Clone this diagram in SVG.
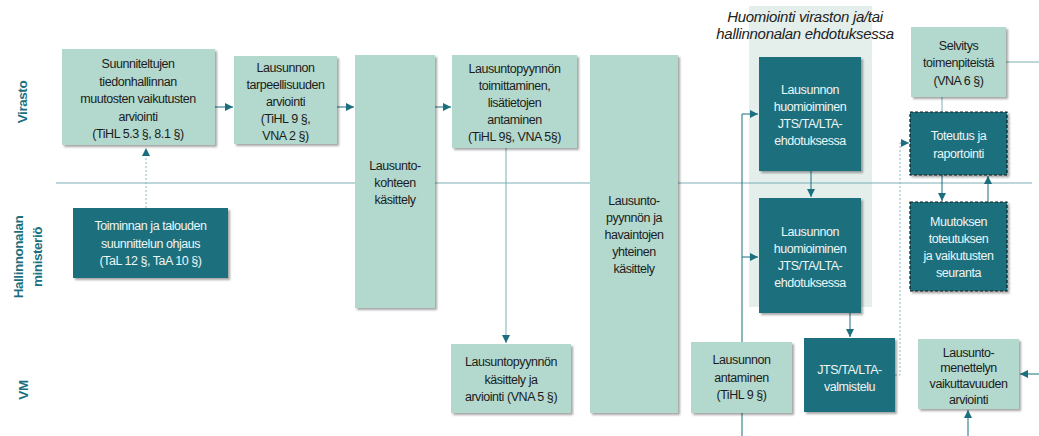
<svg xmlns="http://www.w3.org/2000/svg" width="1039" height="436" viewBox="0 0 1039 436">
<style>
.lt{fill:#b3d8cd}
.dk{fill:#1b6f7e}
.dash{stroke:#1a1a1a;stroke-width:1.2;stroke-dasharray:3 2}
text{font-family:"Liberation Sans",Arial,sans-serif;font-size:12.5px;letter-spacing:-0.45px;text-anchor:middle}
.tl{fill:#1c1c1c}
.td{fill:#eef5f5}
.lane{font-size:13.5px;font-weight:bold;fill:#1b6f7e;letter-spacing:-0.45px}
.ttl{font-size:15px;font-style:italic;fill:#222;letter-spacing:-0.3px}
.c{fill:none;stroke:#1b6f7e;stroke-width:1}
.cl{fill:none;stroke:#7aaeb6;stroke-width:1}
.cd{fill:none;stroke:#8fb9c0;stroke-width:1;stroke-dasharray:2 2}
</style>
<defs>
<marker id="ah" viewBox="0 0 10 10" refX="10" refY="5" markerWidth="8" markerHeight="8" markerUnits="userSpaceOnUse" orient="auto"><path d="M0,0 L10,5 L0,10 Z" fill="#1b6f7e"/></marker>
<filter id="sh" x="-10%" y="-10%" width="130%" height="130%"><feDropShadow dx="2" dy="2" stdDeviation="1.2" flood-color="#000" flood-opacity="0.35"/></filter>
</defs>
<rect width="1039" height="436" fill="#fff"/>
<g id="band">
<rect x="749" y="6" width="123" height="301" fill="#e4eeea"/>
<text class="ttl" x="805" y="22">Huomiointi viraston ja/tai</text>
<text class="ttl" x="805" y="39">hallinnonalan ehdotuksessa</text>
</g>
<g id="lanes">
<line x1="56" y1="183" x2="1032" y2="183" class="cl"/>
<text class="lane" transform="translate(27,102) rotate(-90)">Virasto</text>
<text class="lane" transform="translate(23,257) rotate(-90)">Hallinnonalan</text>
<text class="lane" transform="translate(42,257) rotate(-90)">ministeriö</text>
<text class="lane" transform="translate(28,390) rotate(-90)">VM</text>
</g>
<g id="connectors">
<path class="cd" d="M146,208 V148" marker-end="url(#ah)"/>
<path class="c" d="M215,107 H233" marker-end="url(#ah)"/>
<path class="c" d="M337,107 H354" marker-end="url(#ah)"/>
<path class="c" d="M435,107 H451" marker-end="url(#ah)"/>
<path class="cl" d="M506,148 V343" marker-end="url(#ah)"/>
<path class="c" d="M742,436 V114 H758" marker-end="url(#ah)"/>
<path class="c" d="M742,257 H758" marker-end="url(#ah)"/>
<path class="c" d="M811,171 V197" marker-end="url(#ah)"/>
<path class="c" d="M850,313 V337" marker-end="url(#ah)"/>
<path class="cd" d="M895,375 H900 V143 H909" marker-end="url(#ah)"/>
<path class="cl" d="M942,97 V112"/>
<path class="cl" d="M1006,62 H1039"/>
<path class="c" d="M942,175 V201" marker-end="url(#ah)"/>
<path class="c" d="M988,202 V176" marker-end="url(#ah)"/>
<path class="c" d="M1039,374 H1020" marker-end="url(#ah)"/>
<path class="c" d="M968,436 V410" marker-end="url(#ah)"/>
</g>
<g id="n1"><rect class="lt" x="62" y="49" width="153" height="96" filter="url(#sh)"/>
<text class="tl" x="138" y="68">Suunniteltujen</text><text class="tl" x="138" y="85.5">tiedonhallinnan</text><text class="tl" x="138" y="103">muutosten  vaikutusten</text><text class="tl" x="138" y="120.5">arviointi</text><text class="tl" x="138" y="138">(TiHL 5.3 §, 8.1 §)</text></g>
<g id="n2"><rect class="lt" x="234" y="56" width="103" height="88" filter="url(#sh)"/>
<text class="tl" x="285.5" y="71.5">Lausunnon</text><text class="tl" x="285.5" y="88.5">tarpeellisuuden</text><text class="tl" x="285.5" y="105.5">arviointi</text><text class="tl" x="285.5" y="122.5">(TiHL 9 §,</text><text class="tl" x="285.5" y="139.5">VNA 2 §)</text></g>
<g id="n3"><rect class="lt" x="355" y="55" width="80" height="253" filter="url(#sh)"/>
<text class="tl" x="395" y="169.5">Lausunto-</text><text class="tl" x="395" y="186.5">kohteen</text><text class="tl" x="395" y="203.5">käsittely</text></g>
<g id="n4"><rect class="lt" x="452" y="55" width="125" height="93" filter="url(#sh)"/>
<text class="tl" x="514.5" y="72.5">Lausuntopyynnön</text><text class="tl" x="514.5" y="89.5">toimittaminen,</text><text class="tl" x="514.5" y="106.5">lisätietojen</text><text class="tl" x="514.5" y="123.5">antaminen</text><text class="tl" x="514.5" y="140.5">(TiHL 9§, VNA 5§)</text></g>
<g id="n5"><rect class="lt" x="590" y="55" width="88" height="358" filter="url(#sh)"/>
<text class="tl" x="634" y="204.5">Lausunto-</text><text class="tl" x="634" y="221.5">pyynnön  ja</text><text class="tl" x="634" y="238.5">havaintojen</text><text class="tl" x="634" y="255.5">yhteinen</text><text class="tl" x="634" y="272.5">käsittely</text></g>
<g id="n6"><rect class="lt" x="451" y="344" width="120" height="69" filter="url(#sh)"/>
<text class="tl" x="511" y="366">Lausuntopyynnön</text><text class="tl" x="511" y="383.5">käsittely ja</text><text class="tl" x="511" y="401">arviointi  (VNA 5 §)</text></g>
<g id="n7"><rect class="dk" x="73" y="208" width="155" height="70" filter="url(#sh)"/>
<text class="td" x="150.5" y="230">Toiminnan  ja talouden</text><text class="td" x="150.5" y="247.5">suunnittelun  ohjaus</text><text class="td" x="150.5" y="265">(TaL 12 §, TaA 10 §)</text></g>
<g id="n9"><rect class="dk" x="759" y="57" width="102" height="114" filter="url(#sh)"/>
<text class="td" x="810" y="94">Lausunnon</text><text class="td" x="810" y="111">huomioiminen</text><text class="td" x="810" y="128">JTS/TA/LTA-</text><text class="td" x="810" y="145">ehdotuksessa</text></g>
<g id="n10"><rect class="dk" x="759" y="198" width="102" height="115" filter="url(#sh)"/>
<text class="td" x="810" y="236">Lausunnon</text><text class="td" x="810" y="253">huomioiminen</text><text class="td" x="810" y="270">JTS/TA/LTA-</text><text class="td" x="810" y="287">ehdotuksessa</text></g>
<g id="n11"><rect class="dk" x="804" y="338" width="91" height="74" filter="url(#sh)"/>
<text class="td" x="849.5" y="374">JTS/TA/LTA-</text><text class="td" x="849.5" y="391">valmistelu</text></g>
<g id="n12"><rect class="lt" x="691" y="342" width="101" height="71" filter="url(#sh)"/>
<text class="tl" x="741.5" y="364">Lausunnon</text><text class="tl" x="741.5" y="381.5">antaminen</text><text class="tl" x="741.5" y="399">(TiHL 9 §)</text></g>
<g id="n13"><rect class="lt" x="911" y="27" width="95" height="70" filter="url(#sh)"/>
<text class="tl" x="958.5" y="49.5">Selvitys</text><text class="tl" x="958.5" y="67">toimenpiteistä</text><text class="tl" x="958.5" y="84.5">(VNA 6 §)</text></g>
<g id="n14"><rect class="dk dash" x="910" y="112" width="97" height="63" filter="url(#sh)"/>
<text class="td" x="958.5" y="140">Toteutus ja</text><text class="td" x="958.5" y="158">raportointi</text></g>
<g id="n15"><rect class="dk dash" x="910" y="202" width="97" height="89" filter="url(#sh)"/>
<text class="td" x="958.5" y="226">Muutoksen</text><text class="td" x="958.5" y="243">toteutuksen</text><text class="td" x="958.5" y="260">ja vaikutusten</text><text class="td" x="958.5" y="277">seuranta</text></g>
<g id="n16"><rect class="lt" x="918" y="339" width="101" height="70" filter="url(#sh)"/>
<text class="tl" x="968.5" y="356.5">Lausunto-</text><text class="tl" x="968.5" y="372">menettelyn</text><text class="tl" x="968.5" y="388">vaikuttavuuden</text><text class="tl" x="968.5" y="404">arviointi</text></g>
</svg>
